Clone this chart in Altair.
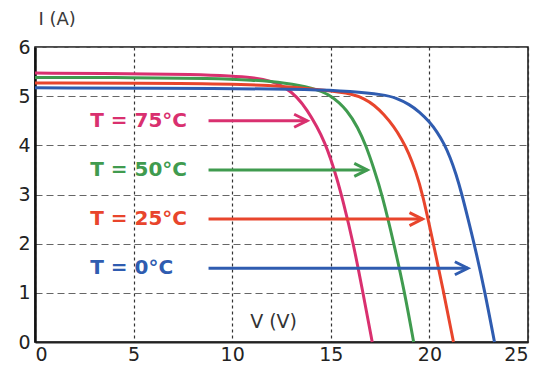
import altair as alt
import pandas as pd

# ---- data ----
series_names = ["T = 75°C", "T = 50°C", "T = 25°C", "T = 0°C"]
series_colors = ["#d9306f", "#409b4f", "#e8452c", "#2f5cb0"]
label_colors = ["#d83c7a", "#55a45a", "#e24a35", "#3560b0"]

v_75 = [0, 5, 8, 10, 11.0, 12.0, 12.7, 13.3, 13.8, 14.3, 14.7, 15.0, 15.3, 15.6, 16.15, 16.63, 17.1]
i_75 = [5.47, 5.46, 5.44, 5.41, 5.38, 5.31, 5.18, 4.98, 4.72, 4.38, 4.05, 3.72, 3.34, 2.90, 2.00, 1.00, 0.0]

v_50 = [0, 5, 9, 11, 12.74, 14.06, 15.0, 15.87, 16.37, 16.78, 17.19, 17.6, 18.2, 18.75, 19.2]
i_50 = [5.38, 5.38, 5.36, 5.33, 5.27, 5.17, 5.03, 4.70, 4.36, 4.00, 3.52, 3.00, 2.00, 1.00, 0.0]

v_25 = [0, 8, 12, 15.0, 16.04, 16.7, 17.2, 17.69, 18.2, 18.6, 18.95, 19.3, 19.65, 20.15, 20.7, 21.22]
i_25 = [5.27, 5.26, 5.23, 5.11, 5.05, 4.95, 4.82, 4.63, 4.38, 4.12, 3.85, 3.48, 3.02, 2.10, 1.06, 0.0]

v_0 = [0, 10, 14, 16.04, 17.69, 18.3, 19.0, 19.5, 20.0, 20.4, 20.75, 21.05, 21.35, 21.65, 21.95, 22.3, 22.8, 23.3]
i_0 = [5.17, 5.16, 5.14, 5.10, 5.03, 4.97, 4.83, 4.68, 4.48, 4.27, 4.03, 3.76, 3.42, 3.00, 2.52, 1.95, 1.05, 0.0]

label_V = [2.8, 2.8, 2.8, 2.8]
label_I = [4.5, 3.5, 2.5, 1.5]
arrow_start = [8.8, 8.8, 8.8, 8.8]
arrow_end = [13.8, 16.85, 19.65, 21.95]

x_ticks = [0, 5, 10, 15, 20, 25]
y_ticks = [0, 1, 2, 3, 4, 5, 6]
xlabel_text = ["V (V)"]
xlabel_V = [12.1]
xlabel_I = [0.4]

# ---- tables ----
rows = []
for name, vs, is_ in zip(series_names, [v_75, v_50, v_25, v_0], [i_75, i_50, i_25, i_0]):
    for v, i in zip(vs, is_):
        rows.append({"V": v, "I": i, "T": name})
curves = pd.DataFrame(rows)

ann = pd.DataFrame({
    "T": series_names, "V": label_V, "I": label_I,
    "V0": arrow_start, "V1": arrow_end,
})
vlab = pd.DataFrame({"txt": xlabel_text, "V": xlabel_V, "I": xlabel_I})

xs = alt.Scale(domain=[0, 25], nice=False, zero=False)
ys = alt.Scale(domain=[0, 6], nice=False, zero=False)
col = alt.Scale(domain=series_names, range=series_colors)
lcol = alt.Scale(domain=series_names, range=label_colors)

x_axis = alt.Axis(values=x_ticks, title=None, ticks=False, labelFont="DejaVu Sans",
                  labelFontSize=19, labelColor="#222", labelPadding=3,
                  grid=True, gridDash=[3, 3], gridColor="#333", gridWidth=1.2,
                  domainColor="#222", domainWidth=2)
y_axis = alt.Axis(values=y_ticks, title="I (A)", titleAngle=0, titleAlign="left",
                  titleBaseline="alphabetic", titleX=3, titleY=-23,
                  titleFont="DejaVu Sans", titleFontSize=18, titleFontWeight="normal",
                  titleColor="#3a3a3a",
                  ticks=False, labelFont="DejaVu Sans", labelFontSize=19,
                  labelColor="#222", labelPadding=5,
                  grid=True, gridDash=[7, 4], gridColor="#666", gridWidth=1.2,
                  domainColor="#111", domainWidth=2.5)

lines = alt.Chart(curves).mark_line(strokeWidth=3, interpolate="basis").encode(
    x=alt.X("V:Q", scale=xs, axis=x_axis),
    y=alt.Y("I:Q", scale=ys, axis=y_axis),
    color=alt.Color("T:N", scale=col, legend=None),
    detail="T:N",
)

shafts = alt.Chart(ann).mark_rule(strokeWidth=3).encode(
    x=alt.X("V0:Q", scale=xs), x2="V1:Q",
    y=alt.Y("I:Q", scale=ys),
    color=alt.Color("T:N", scale=col, legend=None),
)

heads = alt.Chart(ann).mark_point(
    shape="M-1,-0.5L0,0L-1,0.5", size=676, filled=False, strokeWidth=3, opacity=1,
).encode(
    x=alt.X("V1:Q", scale=xs),
    y=alt.Y("I:Q", scale=ys),
    color=alt.Color("T:N", scale=col, legend=None),
)

labels = alt.Chart(ann).mark_text(
    align="left", baseline="middle", font="DejaVu Sans", fontSize=20, fontWeight="bold",
).encode(
    x=alt.X("V:Q", scale=xs),
    y=alt.Y("I:Q", scale=ys),
    text="T:N",
    color=alt.Color("T:N", scale=lcol, legend=None),
)

vtext = alt.Chart(vlab).mark_text(
    align="center", baseline="middle", font="DejaVu Sans", fontSize=19, color="#333",
).encode(
    x=alt.X("V:Q", scale=xs),
    y=alt.Y("I:Q", scale=ys),
    text="txt:N",
)

chart = alt.layer(lines, shafts, heads, labels, vtext).properties(
    width=493, height=295,
    autosize=alt.AutoSizeParams(type="none"),
    padding={"left": 35, "top": 47, "right": 16, "bottom": 25},
    background="white",
).configure_view(stroke="#111", strokeWidth=1.5)

chart.save("out.html", embed_options={"renderer": "svg", "actions": False})
